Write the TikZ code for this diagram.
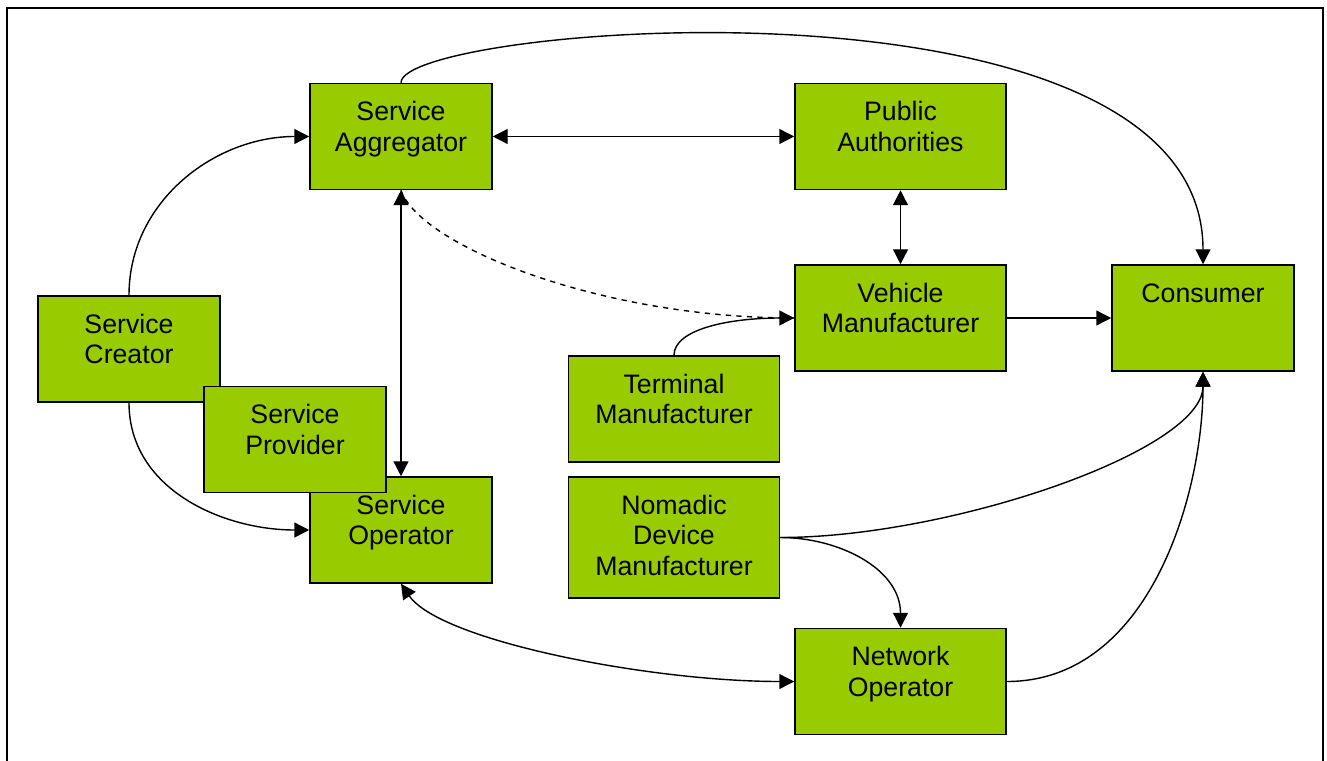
\documentclass[tikz,border=0pt]{standalone}
\usepackage{fontspec}
\setmainfont{Liberation Sans}
\usetikzlibrary{arrows.meta}
\definecolor{rolegreen}{HTML}{99CC00}

\begin{document}
\begin{tikzpicture}[
        x=0.02cm, y=0.02cm,
        >={Triangle[length=8.5pt,width=8.5pt]},
        every node/.style={draw, line width=0.9pt, fill=rolegreen, inner sep=0pt,
            font=\fontsize{15.2pt}{17.6pt}\selectfont, align=center,
            text height=0.74cm, text depth=1.38cm},
        narrow/.style={text width=3.64cm},
        wide/.style={text width=4.22cm},
        link/.style={line width=0.8pt}
    ]
        \useasboundingbox (0,0) rectangle (1327,-760);
        \draw[line width=0.85pt] (7,-8) rectangle (1323,-800);

        % Rollen
        \node [narrow] (creator) at (129,-349) {Service\\Creator};
        \node [narrow] (oper) at (401,-530) {Service\\Operator};
        \node [narrow] (prov) at (295,-439.5) {Service\\Provider};
        \node [narrow] (aggr) at (401,-136.5) {Service\\Aggregator};
        \node [wide] (pub) at (900.5,-136.5) {Public\\Authorities};
        \node [wide] (veh) at (900.5,-318) {Vehicle\\Manufacturer};
        \node [narrow] (cons) at (1203,-318) {Consumer};
        \node [wide] (term) at (674,-409) {Terminal\\Manufacturer};
        \node [wide, text depth=1.68cm] (nomad) at (674,-537.5) {Nomadic\\Device\\Manufacturer};
        \node [wide] (net) at (900.5,-681.5) {Network\\Operator};

        % Beziehungen
        \draw[link, ->] (creator.north) to[out=90, in=180] (aggr.west);
        \draw[link, ->] (creator.south) to[out=-90, in=180] (oper.west);
        \draw[link, <->] (aggr.east) -- (pub.west);
        \draw[link, <->] (aggr.south) -- (oper.north);
        \draw[link, <->] (pub.south) -- (veh.north);
        \draw[link, ->] (veh.east) -- (cons.west);
        \draw[link, ->] (aggr.north) .. controls +(0,58) and +(0,305) .. (cons.north);
        \draw[link, dashed] (veh.west) .. controls +(-195,0) and +(19,-55) .. (aggr.south);
        \draw[link, ->] (term.north) .. controls +(0,26) and +(-65,0) .. (veh.west);
        \draw[link, ->] (nomad.east) .. controls +(170,0) and +(0,-79) .. (cons.south);
        \draw[link, ->] (nomad.east) to[out=0, in=90] (net.north);
        \draw[link, ->] (net.east) .. controls +(144,0) and +(0,-120) .. (cons.south);
        \draw[link, <->] (oper.south) .. controls +(39,-57) and +(-145,0) .. (net.west);
    \end{tikzpicture}
\end{document}
